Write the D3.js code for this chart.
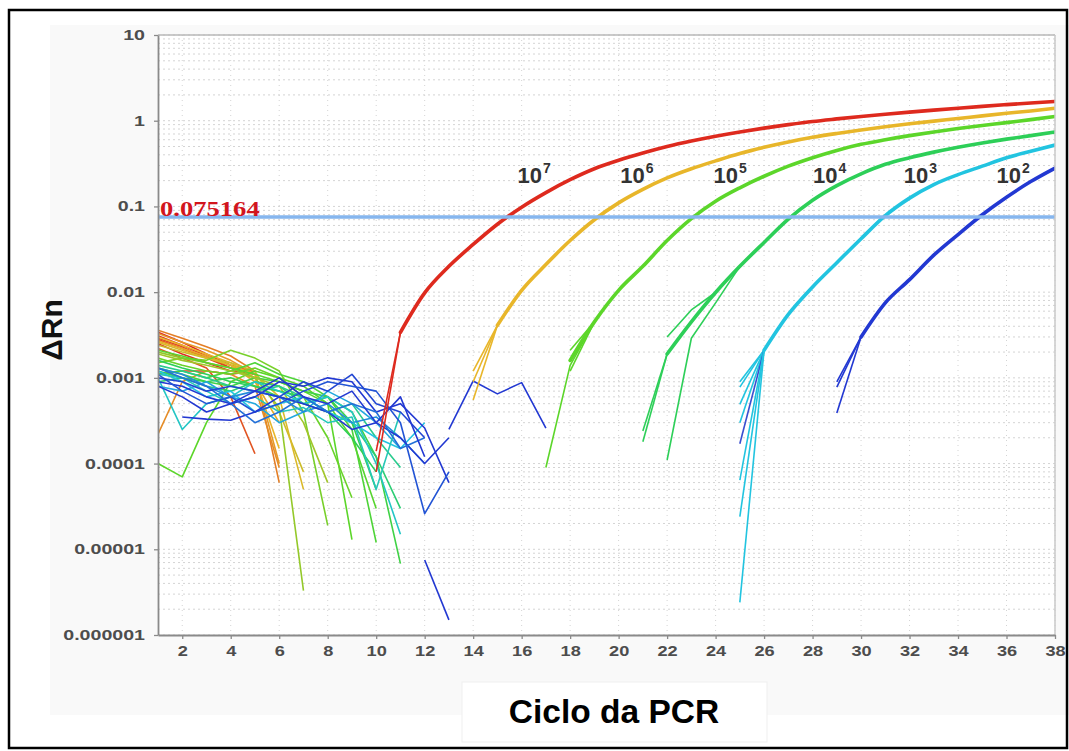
<!DOCTYPE html>
<html>
<head>
<meta charset="utf-8">
<script src="https://cdn.jsdelivr.net/npm/d3@7"></script>
<style>
  body { margin: 0; background: #fff; }
  svg { display: block; }
</style>
</head>
<body>
<svg id="chart" width="1069" height="751"></svg>
<script>
// ---- data -------------------------------------------------------------
const cycleTicks = d3.range(2, 39, 2);
const yTickValues = [1e-6, 1e-5, 1e-4, 1e-3, 1e-2, 1e-1, 1, 10];
const yTickLabels = ["0.000001", "0.00001", "0.0001", "0.001", "0.01", "0.1", "1", "10"];
const threshold = 0.075164;
const dilutionExponents = ["7", "6", "5", "4", "3", "2"];

// amplification curves (ΔRn from the first cycle of each curve to cycle 38)
const curveStarts = [11, 15, 18, 22, 26, 30];
const curve1e7 = [0.0034, 0.0098, 0.02, 0.036, 0.062, 0.098, 0.145, 0.205, 0.275, 0.345, 0.42, 0.5, 0.58, 0.66, 0.74, 0.82, 0.9, 0.98, 1.05, 1.12, 1.19, 1.26, 1.33, 1.4, 1.47, 1.54, 1.61, 1.68];
const curve1e6 = [0.0041, 0.0105, 0.021, 0.04, 0.07, 0.11, 0.158, 0.215, 0.275, 0.34, 0.415, 0.49, 0.565, 0.64, 0.71, 0.78, 0.85, 0.92, 0.99, 1.06, 1.14, 1.22, 1.3, 1.4];
const curve1e5 = [0.0016, 0.0045, 0.0105, 0.02, 0.04, 0.072, 0.115, 0.165, 0.225, 0.295, 0.37, 0.45, 0.53, 0.6, 0.67, 0.74, 0.81, 0.88, 0.95, 1.03, 1.12];
const curve1e4 = [0.0019, 0.0045, 0.0099, 0.02, 0.038, 0.071, 0.118, 0.175, 0.24, 0.31, 0.37, 0.43, 0.49, 0.55, 0.61, 0.67, 0.74];
const curve1e3 = [0.0021, 0.0055, 0.0115, 0.022, 0.042, 0.078, 0.125, 0.18, 0.235, 0.295, 0.37, 0.44, 0.52];
const curve1e2 = [0.003, 0.0075, 0.014, 0.027, 0.047, 0.08, 0.128, 0.195, 0.28];
const curves = [curve1e7, curve1e6, curve1e5, curve1e4, curve1e3, curve1e2];

// replicate wells whose early cycles sit apart from the bundle; each joins
// its dilution curve on the cycle after its last value
const replicateGroup = [0, 0, 1, 1, 1, 2, 2, 2, 3, 3, 3, 3, 4, 4, 4, 4, 4, 4, 4, 4, 5, 5, 5];
const replicateStart = [10, 10, 14, 14, 14, 17, 18, 18, 21, 21, 22, 22, 25, 25, 25, 25, 25, 25, 25, 25, 29, 29, 29];
const replicateValues = [
  [0.00008], [0.00014],
  [0.00055], [0.0009], [0.0012],
  [0.00009, 0.0014], [0.0021], [0.0012],
  [0.00024], [0.00018], [0.00011, 0.0029, 0.0075], [0.003, 0.0062],
  [0.0009], [0.00078], [0.00049], [0.0003], [0.00017], [0.000064], [0.000024], [0.0000024],
  [0.0009], [0.00078], [0.00039]
];

// baseline-phase traces of the individual wells (tone = position along the plate palette)
const baselineTone = [
  0, 0.1, 0.2, 0.05, 0.3, 0.15, 0.25,
  0.6, 0.8, 1.0, 0.9, 0.7, 1.2, 1.1,
  1.6, 1.8, 2.0, 2.3, 2.6, 2.1, 1.9, 1.5,
  3.0, 3.2, 2.8, 3.4,
  4.0, 3.8, 4.2, 4.4, 3.7,
  5.0, 4.8, 5.1, 4.6, 5.2, 5.1, 4.9, 5.3
];
const baselineStart = [
  1, 1, 1, 1, 1, 1, 1,
  1, 1, 1, 1, 1, 1, 1,
  1, 1, 1, 1, 1, 1, 1, 1,
  1, 1, 1, 1,
  1, 1, 1, 1, 1,
  1, 1, 2, 1, 12, 13, 1, 1
];
const baselineValues = [
  [0.0034, 0.0026, 0.0019, 0.0014, 0.0011],
  [0.0031, 0.0024, 0.0018, 0.0013, 0.0012],
  [0.0028, 0.0022, 0.0017, 0.0013, 0.0010],
  [0.0025, 0.0019, 0.0015, 0.0012, 0.0011],
  [0.0022, 0.0017, 0.0013, 0.0006, 0.00013],
  [0.0011, 0.0012, 0.0012, 0.0011, 0.0012],
  [0.0029, 0.0023, 0.0017, 0.0014, 0.0012],
  [0.0036, 0.0029, 0.0023, 0.0018, 0.0012, 0.00006],
  [0.0033, 0.0026, 0.0021, 0.0016, 0.0011, 0.0001],
  [0.0030, 0.0024, 0.0019, 0.0015, 0.0010, 0.00015],
  [0.0027, 0.0022, 0.0018, 0.0014, 0.0009, 0.0003],
  [0.00022, 0.0009, 0.0012, 0.0011, 0.0008, 0.00009],
  [0.0024, 0.0020, 0.0017, 0.0015, 0.0012, 0.0004, 0.00008],
  [0.0026, 0.0021, 0.0017, 0.0014, 0.0011, 0.0006, 0.00005],
  [0.0020, 0.0017, 0.0015, 0.0013, 0.0010, 0.00045, 0.0000033],
  [0.0015, 0.0017, 0.0016, 0.0021, 0.0017, 0.0012, 0.0004, 0.000019],
  [0.0001, 0.00007, 0.0003, 0.0009, 0.0012, 0.0010, 0.0008, 0.0005, 0.000013],
  [0.0011, 0.0012, 0.0010, 0.0012, 0.0015, 0.0011, 0.0009, 0.0006, 0.00025, 0.000012],
  [0.0013, 0.0011, 0.0009, 0.0008, 0.0010, 0.0009, 0.0007, 0.0006, 0.0004, 0.00012, 0.0000068],
  [0.0021, 0.0018, 0.0015, 0.0013, 0.0011, 0.0009, 0.0007, 0.0005, 0.0002, 0.00003],
  [0.0017, 0.0014, 0.0012, 0.0011, 0.0013, 0.0010, 0.0006, 0.0002, 0.00004],
  [0.0019, 0.0016, 0.0014, 0.0012, 0.0010, 0.0008, 0.0003, 0.00006],
  [0.0016, 0.0013, 0.0011, 0.0009, 0.0008, 0.0007, 0.0006, 0.0004, 0.0002, 0.00008],
  [0.0009, 0.0010, 0.0008, 0.0007, 0.0009, 0.0008, 0.0005, 0.0004, 0.0003, 0.00012, 0.00003],
  [0.0012, 0.0010, 0.0009, 0.0010, 0.0008, 0.0006, 0.0005, 0.0006, 0.0003, 0.00005],
  [0.0014, 0.0012, 0.0010, 0.0008, 0.0007, 0.0008, 0.0006, 0.0004, 0.0005, 0.0002, 0.00009],
  [0.0012, 0.0009, 0.0006, 0.0007, 0.0004, 0.0005, 0.0006, 0.0004, 0.0003, 0.0002, 0.00015, 0.0003],
  [0.0010, 0.00025, 0.0005, 0.0006, 0.0009, 0.0007, 0.0005, 0.0006, 0.0004, 0.0001, 0.000015],
  [0.0008, 0.0007, 0.0009, 0.0006, 0.0005, 0.0003, 0.0004, 0.0007, 0.0005, 0.0003, 0.00015],
  [0.0013, 0.0011, 0.0008, 0.0006, 0.0007, 0.0006, 0.0004, 0.0005, 0.0003, 0.00035, 0.0002, 0.0001],
  [0.0011, 0.0010, 0.0007, 0.0005, 0.0006, 0.0004, 0.00045, 0.0003, 0.00035, 0.00005, 0.0004],
  [0.0009, 0.0008, 0.0006, 0.0005, 0.0006, 0.0009, 0.0008, 0.0010, 0.0009, 0.0004, 0.0005, 0.00026, 0.00006],
  [0.0011, 0.0007, 0.0005, 0.0006, 0.0004, 0.0005, 0.0007, 0.0009, 0.0008, 0.0007, 0.0003, 0.000026, 0.00008],
  [0.00035, 0.00033, 0.00032, 0.0004, 0.0006, 0.0005, 0.0004, 0.00025, 0.0003, 0.0002, 0.0001, 0.0002],
  [0.0013, 0.0010, 0.0008, 0.0005, 0.0003, 0.0004, 0.0006, 0.0004, 0.0005, 0.0004, 0.00015, 0.0002],
  [0.0000075, 0.0000015],
  [0.00025, 0.00092, 0.00065, 0.00088, 0.00026],
  [0.0010, 0.0009, 0.0007, 0.0008, 0.0007, 0.0006, 0.0009, 0.0007, 0.0011, 0.0005, 0.0004, 0.0002],
  [0.0008, 0.0006, 0.0004, 0.0005, 0.0007, 0.0010, 0.0006, 0.0005, 0.0007, 0.0003, 0.0006, 0.00012]
];

// ---- layout -----------------------------------------------------------
const svg = d3.select("#chart");
const plot = { left: 158, right: 1055, top: 35, bottom: 635 };

const x = d3.scaleLinear().domain([1, 38]).range([plot.left, plot.right]);
const y = d3.scaleLog().domain([1e-6, 10]).range([plot.bottom, plot.top]);

// plate palette: red → gold → green → emerald → cyan → blue
const tone = d3.scaleLinear()
  .domain([0, 1, 2, 3, 4, 5])
  .range(["#de2a1e", "#e8b62a", "#5cd62a", "#2dcf58", "#22c4e0", "#2238d2"])
  .interpolate(d3.interpolateRgb)
  .clamp(true);

// page frame and panel backgrounds
svg.append("rect").attr("x", 0).attr("y", 0).attr("width", 1069).attr("height", 751).attr("fill", "#fff");
svg.append("rect").attr("x", 50).attr("y", 25).attr("width", 1019).attr("height", 690).attr("fill", "#f9f9f9");
svg.append("rect").attr("x", 462).attr("y", 682).attr("width", 305).attr("height", 60)
  .attr("fill", "#fff").attr("stroke", "#efefef").attr("stroke-width", 1);
svg.append("rect").attr("x", plot.left).attr("y", plot.top)
  .attr("width", plot.right - plot.left).attr("height", plot.bottom - plot.top).attr("fill", "#fff");
svg.append("rect").attr("x", 9).attr("y", 10).attr("width", 1058).attr("height", 738)
  .attr("fill", "none").attr("stroke", "#000").attr("stroke-width", 2.5);

// grid
const grid = svg.append("g");
const minorValues = [];
for (let e = -6; e < 1; e++) for (let m = 1; m <= 9; m++) minorValues.push(m * Math.pow(10, e));
minorValues.push(10);
grid.selectAll("line.h").data(minorValues).join("line")
  .attr("x1", plot.left).attr("x2", plot.right)
  .attr("y1", d => y(d)).attr("y2", d => y(d))
  .attr("stroke", "#d4d4d4").attr("stroke-width", 1).attr("stroke-dasharray", "2,3");
grid.selectAll("line.v").data(cycleTicks).join("line")
  .attr("x1", d => x(d)).attr("x2", d => x(d))
  .attr("y1", plot.top).attr("y2", plot.bottom)
  .attr("stroke", "#d4d4d4").attr("stroke-width", 1).attr("stroke-dasharray", "1,4");

// clip for traces
svg.append("clipPath").attr("id", "plotClip").append("rect")
  .attr("x", plot.left).attr("y", plot.top)
  .attr("width", plot.right - plot.left).attr("height", plot.bottom - plot.top);
const traces = svg.append("g").attr("clip-path", "url(#plotClip)");

const line = d3.line().x(d => x(d[0])).y(d => y(d[1]));
const smoothLine = d3.line().x(d => x(d[0])).y(d => y(d[1])).curve(d3.curveMonotoneX);
const toPoints = (start, values) => values.map((v, i) => [start + i, v]);

// baseline traces
traces.append("g").selectAll("path").data(baselineValues).join("path")
  .attr("d", (vals, i) => line(toPoints(baselineStart[i], vals)))
  .attr("fill", "none")
  .attr("stroke", (vals, i) => tone(baselineTone[i]))
  .attr("stroke-width", 1.6)
  .attr("stroke-linejoin", "round");

// replicate tails joining the amplification bundles
traces.append("g").selectAll("path").data(replicateValues).join("path")
  .attr("d", (vals, i) => {
    const g = replicateGroup[i];
    const pts = toPoints(replicateStart[i], vals);
    const joinCycle = replicateStart[i] + vals.length;
    pts.push([joinCycle, curves[g][joinCycle - curveStarts[g]]]);
    return line(pts);
  })
  .attr("fill", "none")
  .attr("stroke", (vals, i) => replicateGroup[i] === 4 && vals[0] === 0.00017 ? "#3a4fd0" : tone(replicateGroup[i]))
  .attr("stroke-width", 1.6)
  .attr("stroke-linejoin", "round");

// amplification bundles
traces.append("g").selectAll("path").data(curves).join("path")
  .attr("d", (vals, i) => smoothLine(toPoints(curveStarts[i], vals)))
  .attr("fill", "none")
  .attr("stroke", (vals, i) => tone(i))
  .attr("stroke-width", 3.6)
  .attr("stroke-linejoin", "round")
  .attr("stroke-linecap", "round");

// threshold
svg.append("line")
  .attr("x1", plot.left).attr("x2", plot.right)
  .attr("y1", y(threshold)).attr("y2", y(threshold))
  .attr("stroke", "#86b6ee").attr("stroke-width", 3.5);

svg.append("text")
  .attr("transform", `translate(${plot.left + 2},${y(threshold) - 1}) scale(1.33,1)`)
  .attr("font-family", "'Liberation Serif', 'Times New Roman', serif")
  .attr("font-weight", "bold").attr("font-size", 20)
  .attr("fill", "#d2151d")
  .text(String(threshold));

// frame
svg.append("line").attr("x1", plot.left).attr("x2", plot.right).attr("y1", plot.top).attr("y2", plot.top)
  .attr("stroke", "#b8b8b8").attr("stroke-width", 1.5);
svg.append("line").attr("x1", plot.right).attr("x2", plot.right).attr("y1", plot.top).attr("y2", plot.bottom)
  .attr("stroke", "#c8c8c8").attr("stroke-width", 1.5);

// axes
const yAxis = svg.append("g").attr("transform", `translate(${plot.left},0)`)
  .call(d3.axisLeft(y).tickValues(yTickValues).tickFormat((d, i) => yTickLabels[i]).tickSize(4).tickPadding(6).tickSizeOuter(0));
const xAxis = svg.append("g").attr("transform", `translate(0,${plot.bottom})`)
  .call(d3.axisBottom(x).tickValues(cycleTicks).tickSize(4).tickPadding(7).tickSizeOuter(0));

[yAxis, xAxis].forEach(a => {
  a.select(".domain").attr("stroke", "#8a8a8a").attr("stroke-width", 1.8);
  a.selectAll(".tick line").attr("stroke", "#8a8a8a").attr("stroke-width", 1.3);
  a.selectAll(".tick text")
    .attr("font-family", "'Liberation Sans', Arial, sans-serif")
    .attr("font-size", 14).attr("font-weight", "bold").attr("fill", "#4d4d4d");
});
yAxis.selectAll(".tick text").attr("transform", "scale(1.4,1)").attr("x", -9.3);
xAxis.selectAll(".tick text").attr("transform", "scale(1.3,1)");

// dilution labels, placed just right of each threshold crossing
function crossing(start, vals) {
  for (let i = 1; i < vals.length; i++) {
    if (vals[i] >= threshold && vals[i - 1] < threshold) {
      const f = (Math.log10(threshold) - Math.log10(vals[i - 1])) / (Math.log10(vals[i]) - Math.log10(vals[i - 1]));
      return start + i - 1 + f;
    }
  }
  return start;
}
const labelOffset = [10, 22, 20, 22, 20, 17];
const labels = svg.append("g")
  .attr("font-family", "'Liberation Sans', Arial, sans-serif")
  .attr("font-weight", "bold").attr("fill", "#333");
dilutionExponents.forEach((e, i) => {
  const t = labels.append("text")
    .attr("x", x(crossing(curveStarts[i], curves[i])) + labelOffset[i])
    .attr("y", y(0.19))
    .attr("font-size", 22);
  t.append("tspan").text("10");
  t.append("tspan").attr("font-size", 14).attr("dy", -10).attr("dx", 1).text(e);
});

// axis titles
svg.append("text")
  .attr("transform", "translate(62,330) rotate(-90)")
  .attr("text-anchor", "middle")
  .attr("font-family", "'Liberation Sans', Arial, sans-serif")
  .attr("font-weight", "bold").attr("font-size", 30).attr("fill", "#111")
  .text("ΔRn");
svg.append("text")
  .attr("x", 614).attr("y", 723)
  .attr("text-anchor", "middle")
  .attr("font-family", "'Liberation Sans', Arial, sans-serif")
  .attr("font-weight", "bold").attr("font-size", 33.5).attr("fill", "#000")
  .text("Ciclo da PCR");
</script>
</body>
</html>
